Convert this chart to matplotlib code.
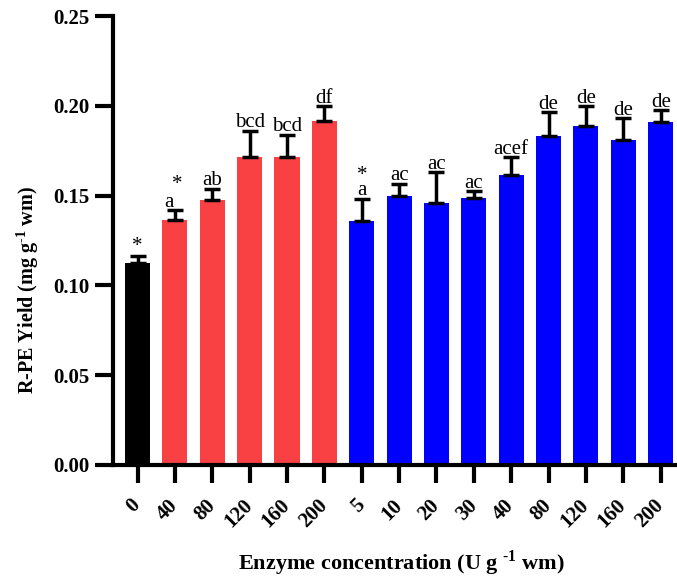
import numpy as np
import matplotlib.pyplot as plt

plt.rcParams['font.family'] = ['Liberation Serif', 'DejaVu Serif']
plt.rcParams['mathtext.fontset'] = 'custom'
plt.rcParams['mathtext.rm'] = 'Liberation Serif'
plt.rcParams['mathtext.bf'] = 'Liberation Serif:bold'

# data
tick_labels = ['0', '40', '80', '120', '160', '200',
               '5', '10', '20', '30', '40', '80', '120', '160', '200']
means = [0.1125, 0.1366, 0.1474, 0.1714, 0.1714, 0.1914,
         0.1359, 0.1496, 0.1460, 0.1487, 0.1616, 0.1830, 0.1886, 0.1808, 0.1910]
errs = [0.0040, 0.0052, 0.0066, 0.0148, 0.0126, 0.0083,
        0.0124, 0.0069, 0.0170, 0.0037, 0.0097, 0.0134, 0.0111, 0.0124, 0.0065]
letters = ['', 'a', 'ab', 'bcd', 'bcd', 'df',
           'a', 'ac', 'ac', 'ac', 'acef', 'de', 'de', 'de', 'de']
groups = ['ctrl'] + ['red'] * 5 + ['blue'] * 9
star_at = {0: 'top', 1: 'right', 6: 'top'}

colors = {'ctrl': 'black', 'red': '#F94144', 'blue': '#0000FF'}

x = np.arange(len(means))
fig = plt.figure(figsize=(6.77, 5.79), dpi=100)
ax = fig.add_axes([0.167, 0.197, 0.831, 0.775])

ax.bar(x, means, width=0.67, color=[colors[g] for g in groups],
       yerr=[np.zeros(len(errs)), errs], capsize=6,
       error_kw=dict(elinewidth=2.5, capthick=2.5, ecolor='black'))

for i in range(len(means)):
    top = means[i] + errs[i]
    if letters[i]:
        ax.annotate(letters[i], (x[i], top), xytext=(0 if i != 1 else -4, -1),
                    textcoords='offset points', ha='center', va='bottom',
                    fontsize=15)
    if i in star_at:
        if star_at[i] == 'top':
            off = (0, 0) if not letters[i] else (0, 10)
        else:
            off = (2, 12)
        ax.annotate('*', (x[i], top), xytext=off, textcoords='offset points',
                    ha='center', va='bottom', fontsize=15)

ax.set_xlim(-0.655, 14.4)
ax.set_ylim(0, 0.25)
ax.set_yticks(np.arange(0, 0.26, 0.05))
ax.set_yticklabels(['%.2f' % v for v in np.arange(0, 0.26, 0.05)],
                   fontsize=15, fontweight='bold')
ax.set_xticks(x)
ax.set_xticklabels(tick_labels, rotation=45, ha='right', va='center',
                   rotation_mode='anchor', fontsize=15, fontweight='bold')
ax.tick_params(axis='both', width=3, length=13)
ax.tick_params(axis='x', pad=14)
ax.tick_params(axis='y', pad=4)

for s in ['top', 'right']:
    ax.spines[s].set_visible(False)
for s in ['left', 'bottom']:
    ax.spines[s].set_linewidth(3)

ax.set_ylabel('R-PE Yield (mg g$^{\\mathbf{\u2010 1}}$ wm)', fontsize=14.5,
              fontweight='bold')
ax.yaxis.set_label_coords(-0.128, 0.39)
ax.set_xlabel('Enzyme concentration (U g $^{\\mathbf{\u2010 1}}$ wm)', fontsize=16,
              fontweight='bold', labelpad=12)
ax.xaxis.label.set_x(0.512)

fig.savefig('out.png', dpi=100)
